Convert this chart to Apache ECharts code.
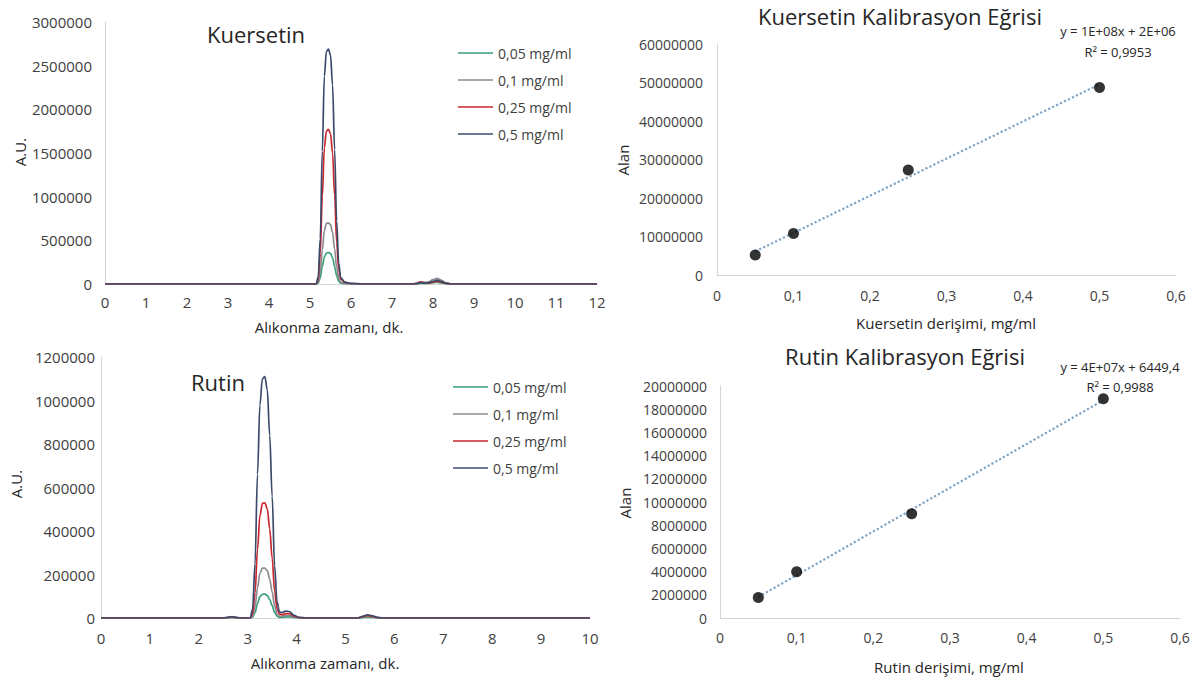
<!DOCTYPE html>
<html>
<head>
<meta charset="utf-8">
<script src="https://cdn.jsdelivr.net/npm/echarts@6/dist/echarts.min.js"></script>
<style>
  html, body { margin: 0; padding: 0; background: #fff; }
  #chart { width: 1196px; height: 682px; }
</style>
</head>
<body>
<div id="chart"></div>
<script>
// ---- Data -------------------------------------------------------------
const concLabels = ['0,05 mg/ml', '0,1 mg/ml', '0,25 mg/ml', '0,5 mg/ml'];

// Kuersetin chromatograms (retention time, min -> A.U.)
const kTime  = [0, 5.15, 5.2, 5.25, 5.3, 5.35, 5.4, 5.45, 5.5, 5.55, 5.6, 5.65, 5.7, 5.75, 5.85, 6.0, 6.3, 7.5, 7.6, 7.7, 7.8, 7.9, 8.0, 8.1, 8.2, 8.3, 8.45, 12];
const kC005  = [0, 0, 10000, 70000, 200000, 310000, 355000, 360000, 350000, 300000, 200000, 95000, 32000, 9000, 3000, 0, 0, 0, 2000, 8000, 5000, 8000, 15000, 20000, 12000, 4000, 0, 0];
const kC01   = [0, 0, 20000, 140000, 390000, 610000, 695000, 700000, 680000, 590000, 400000, 190000, 65000, 20000, 7000, 2000, 0, 0, 5000, 20000, 15000, 25000, 50000, 65000, 45000, 15000, 0, 0];
const kC025  = [0, 0, 50000, 350000, 1000000, 1560000, 1750000, 1770000, 1720000, 1500000, 1020000, 480000, 170000, 55000, 18000, 6000, 0, 0, 8000, 25000, 15000, 10000, 20000, 30000, 20000, 8000, 0, 0];
const kC05   = [0, 0, 80000, 520000, 1520000, 2380000, 2660000, 2690000, 2620000, 2280000, 1540000, 720000, 240000, 70000, 22000, 8000, 0, 0, 5000, 15000, 10000, 15000, 30000, 45000, 30000, 10000, 0, 0];

// Rutin chromatograms
const rTime  = [0, 2.5, 2.6, 2.68, 2.75, 2.85, 3.05, 3.1, 3.15, 3.2, 3.25, 3.3, 3.35, 3.4, 3.45, 3.5, 3.55, 3.6, 3.65, 3.7, 3.78, 3.85, 3.95, 4.05, 4.2, 5.25, 5.35, 5.45, 5.55, 5.65, 5.75, 10];
const rC005  = [0, 0, 1000, 2000, 1000, 0, 0, 4000, 24000, 66000, 98000, 109000, 110000, 104000, 85000, 57000, 26000, 8000, 3000, 3000, 5000, 5000, 2000, 0, 0, 0, 2000, 4000, 2000, 0, 0, 0];
const rC01   = [0, 0, 1500, 3000, 1500, 0, 0, 10000, 52000, 138000, 205000, 229000, 230000, 218000, 178000, 120000, 56000, 18000, 8000, 8000, 12000, 11000, 5000, 1000, 0, 0, 4000, 8000, 5000, 1000, 0, 0];
const rC025  = [0, 0, 2500, 5000, 2500, 0, 0, 20000, 115000, 315000, 470000, 527000, 530000, 502000, 410000, 275000, 125000, 42000, 18000, 15000, 20000, 20000, 8000, 2000, 0, 0, 6000, 12000, 8000, 2000, 0, 0];
const rC05   = [0, 0, 3000, 6000, 3000, 0, 0, 40000, 250000, 660000, 980000, 1100000, 1110000, 1050000, 840000, 560000, 240000, 75000, 28000, 25000, 32000, 30000, 12000, 3000, 0, 0, 8000, 15000, 10000, 3000, 0, 0];

// Calibration points (concentration, mg/ml -> peak area)
const calConc   = [0.05, 0.1, 0.25, 0.5];
const kArea     = [5200000, 10800000, 27300000, 48700000];
const rArea     = [1760000, 3980000, 8980000, 18900000];
const kEquation = ['y = 1E+08x + 2E+06', 'R² = 0,9953'];
const rEquation = ['y = 4E+07x + 6449,4', 'R² = 0,9988'];

// ---- Helpers ----------------------------------------------------------
const FONT = '"Open Sans", "DejaVu Sans", sans-serif';
const TXT = '#404040';
const AXIS = '#d4d4d4';
const lineColors = ['#3a9e78', '#8e8a92', '#c8282e', '#3b4a6b'];

function pairs(xs, ys) { return xs.map((x, i) => [x, ys[i]]); }

// ordinary least-squares line through the calibration points
function fitLine(xs, ys) {
  const n = xs.length;
  const mx = xs.reduce((a, b) => a + b, 0) / n;
  const my = ys.reduce((a, b) => a + b, 0) / n;
  let sxy = 0, sxx = 0;
  for (let i = 0; i < n; i++) { sxy += (xs[i] - mx) * (ys[i] - my); sxx += (xs[i] - mx) ** 2; }
  const slope = sxy / sxx, icpt = my - slope * mx;
  const x0 = Math.min(...xs), x1 = Math.max(...xs);
  return [[x0, slope * x0 + icpt], [x1, slope * x1 + icpt]];
}

const commaDec = v => String(Number(v.toFixed(1))).replace('.', ',');

function valueAxis(gridIndex, min, max, interval, fontSize, margin, formatter) {
  return {
    type: 'value', gridIndex, min, max, interval,
    axisLine: { show: true, lineStyle: { color: AXIS, width: 1 } },
    axisTick: { show: false },
    splitLine: { show: false },
    axisLabel: { color: TXT, fontSize, fontFamily: FONT, margin, formatter: formatter || (v => String(v)) }
  };
}

function chromSeries(axisIdx, time, sets) {
  return sets.map((vals, i) => ({
    type: 'line', name: concLabels[i],
    xAxisIndex: axisIdx, yAxisIndex: axisIdx,
    data: pairs(time, vals),
    showSymbol: false, smooth: 0.35, smoothMonotone: 'x',
    lineStyle: { width: 1.7, color: lineColors[i] },
    itemStyle: { color: lineColors[i] },
    emphasis: { disabled: true }
  }));
}

function calSeries(axisIdx, xs, ys) {
  return [
    {
      type: 'line', xAxisIndex: axisIdx, yAxisIndex: axisIdx,
      data: fitLine(xs, ys), showSymbol: false,
      lineStyle: { type: 'dotted', width: 2.2, color: '#7fa3c4' },
      emphasis: { disabled: true }, z: 1
    },
    {
      type: 'scatter', xAxisIndex: axisIdx, yAxisIndex: axisIdx,
      data: pairs(xs, ys), symbolSize: 11,
      itemStyle: { color: '#000' }, z: 3
    }
  ];
}

function legendAt(left, top) {
  return {
    orient: 'vertical', left, top, data: concLabels,
    icon: 'rect', itemWidth: 35, itemHeight: 1.5, itemGap: 11,
    selectedMode: false,
    textStyle: { color: TXT, fontSize: 14, fontFamily: FONT, lineHeight: 16, padding: [0, 0, 0, 0] }
  };
}

function text(x, y, str, size, opts) {
  return Object.assign({
    type: 'text', x, y, silent: true,
    style: { text: str, fill: '#262626', font: size + 'px ' + FONT, textAlign: 'center', textVerticalAlign: 'middle' }
  }, opts || {});
}

// ---- Chart ------------------------------------------------------------
const chart = echarts.init(document.getElementById('chart'), null, { renderer: 'svg' });

chart.setOption({
  animation: false,
  backgroundColor: '#fff',
  grid: [
    { left: 105, top: 22,  width: 492, height: 262, outerBoundsMode: 'none' },
    { left: 717, top: 44,  width: 459, height: 231, outerBoundsMode: 'none' },
    { left: 101, top: 357, width: 489, height: 261, outerBoundsMode: 'none' },
    { left: 720, top: 386, width: 460, height: 232, outerBoundsMode: 'none' }
  ],
  xAxis: [
    valueAxis(0, 0, 12, 1, 15, 10),
    valueAxis(1, 0, 0.6, 0.1, 14, 13, commaDec),
    valueAxis(2, 0, 10, 1, 15, 12),
    valueAxis(3, 0, 0.6, 0.1, 14, 12, commaDec)
  ],
  yAxis: [
    valueAxis(0, 0, 3000000, 500000, 15, 13),
    valueAxis(1, 0, 60000000, 10000000, 14, 14),
    valueAxis(2, 0, 1200000, 200000, 15, 6),
    valueAxis(3, 0, 20000000, 2000000, 14, 13)
  ],
  legend: [legendAt(453, 40), legendAt(448, 374)],
  series: [
    ...chromSeries(0, kTime, [kC005, kC01, kC025, kC05]),
    ...calSeries(1, calConc, kArea),
    ...chromSeries(2, rTime, [rC005, rC01, rC025, rC05]),
    ...calSeries(3, calConc, rArea)
  ],
  graphic: [
    // panel titles
    text(207, 34, 'Kuersetin', 22, { style: { text: 'Kuersetin', fill: '#262626', font: '22px ' + FONT, textAlign: 'left', textVerticalAlign: 'middle' } }),
    text(191, 382, 'Rutin', 22, { style: { text: 'Rutin', fill: '#262626', font: '22px ' + FONT, textAlign: 'left', textVerticalAlign: 'middle' } }),
    text(900, 16, 'Kuersetin Kalibrasyon Eğrisi', 22),
    text(905, 356, 'Rutin Kalibrasyon Eğrisi', 22),
    // trendline equations
    text(1118, 31, kEquation[0], 13),
    text(1118, 52, kEquation[1], 13),
    text(1120, 367, rEquation[0], 13),
    text(1120, 387, rEquation[1], 13),
    // axis titles
    text(329, 327, 'Alıkonma zamanı, dk.', 15),
    text(325, 663, 'Alıkonma zamanı, dk.', 15),
    text(946, 323, 'Kuersetin derişimi, mg/ml', 15),
    text(949, 667, 'Rutin derişimi, mg/ml', 15),
    text(20, 152, 'A.U.', 15, { rotation: Math.PI / 2 }),
    text(16, 484, 'A.U.', 15, { rotation: Math.PI / 2 }),
    text(623, 160, 'Alan', 15, { rotation: Math.PI / 2 }),
    text(625, 503, 'Alan', 15, { rotation: Math.PI / 2 })
  ]
});
</script>
</body>
</html>
